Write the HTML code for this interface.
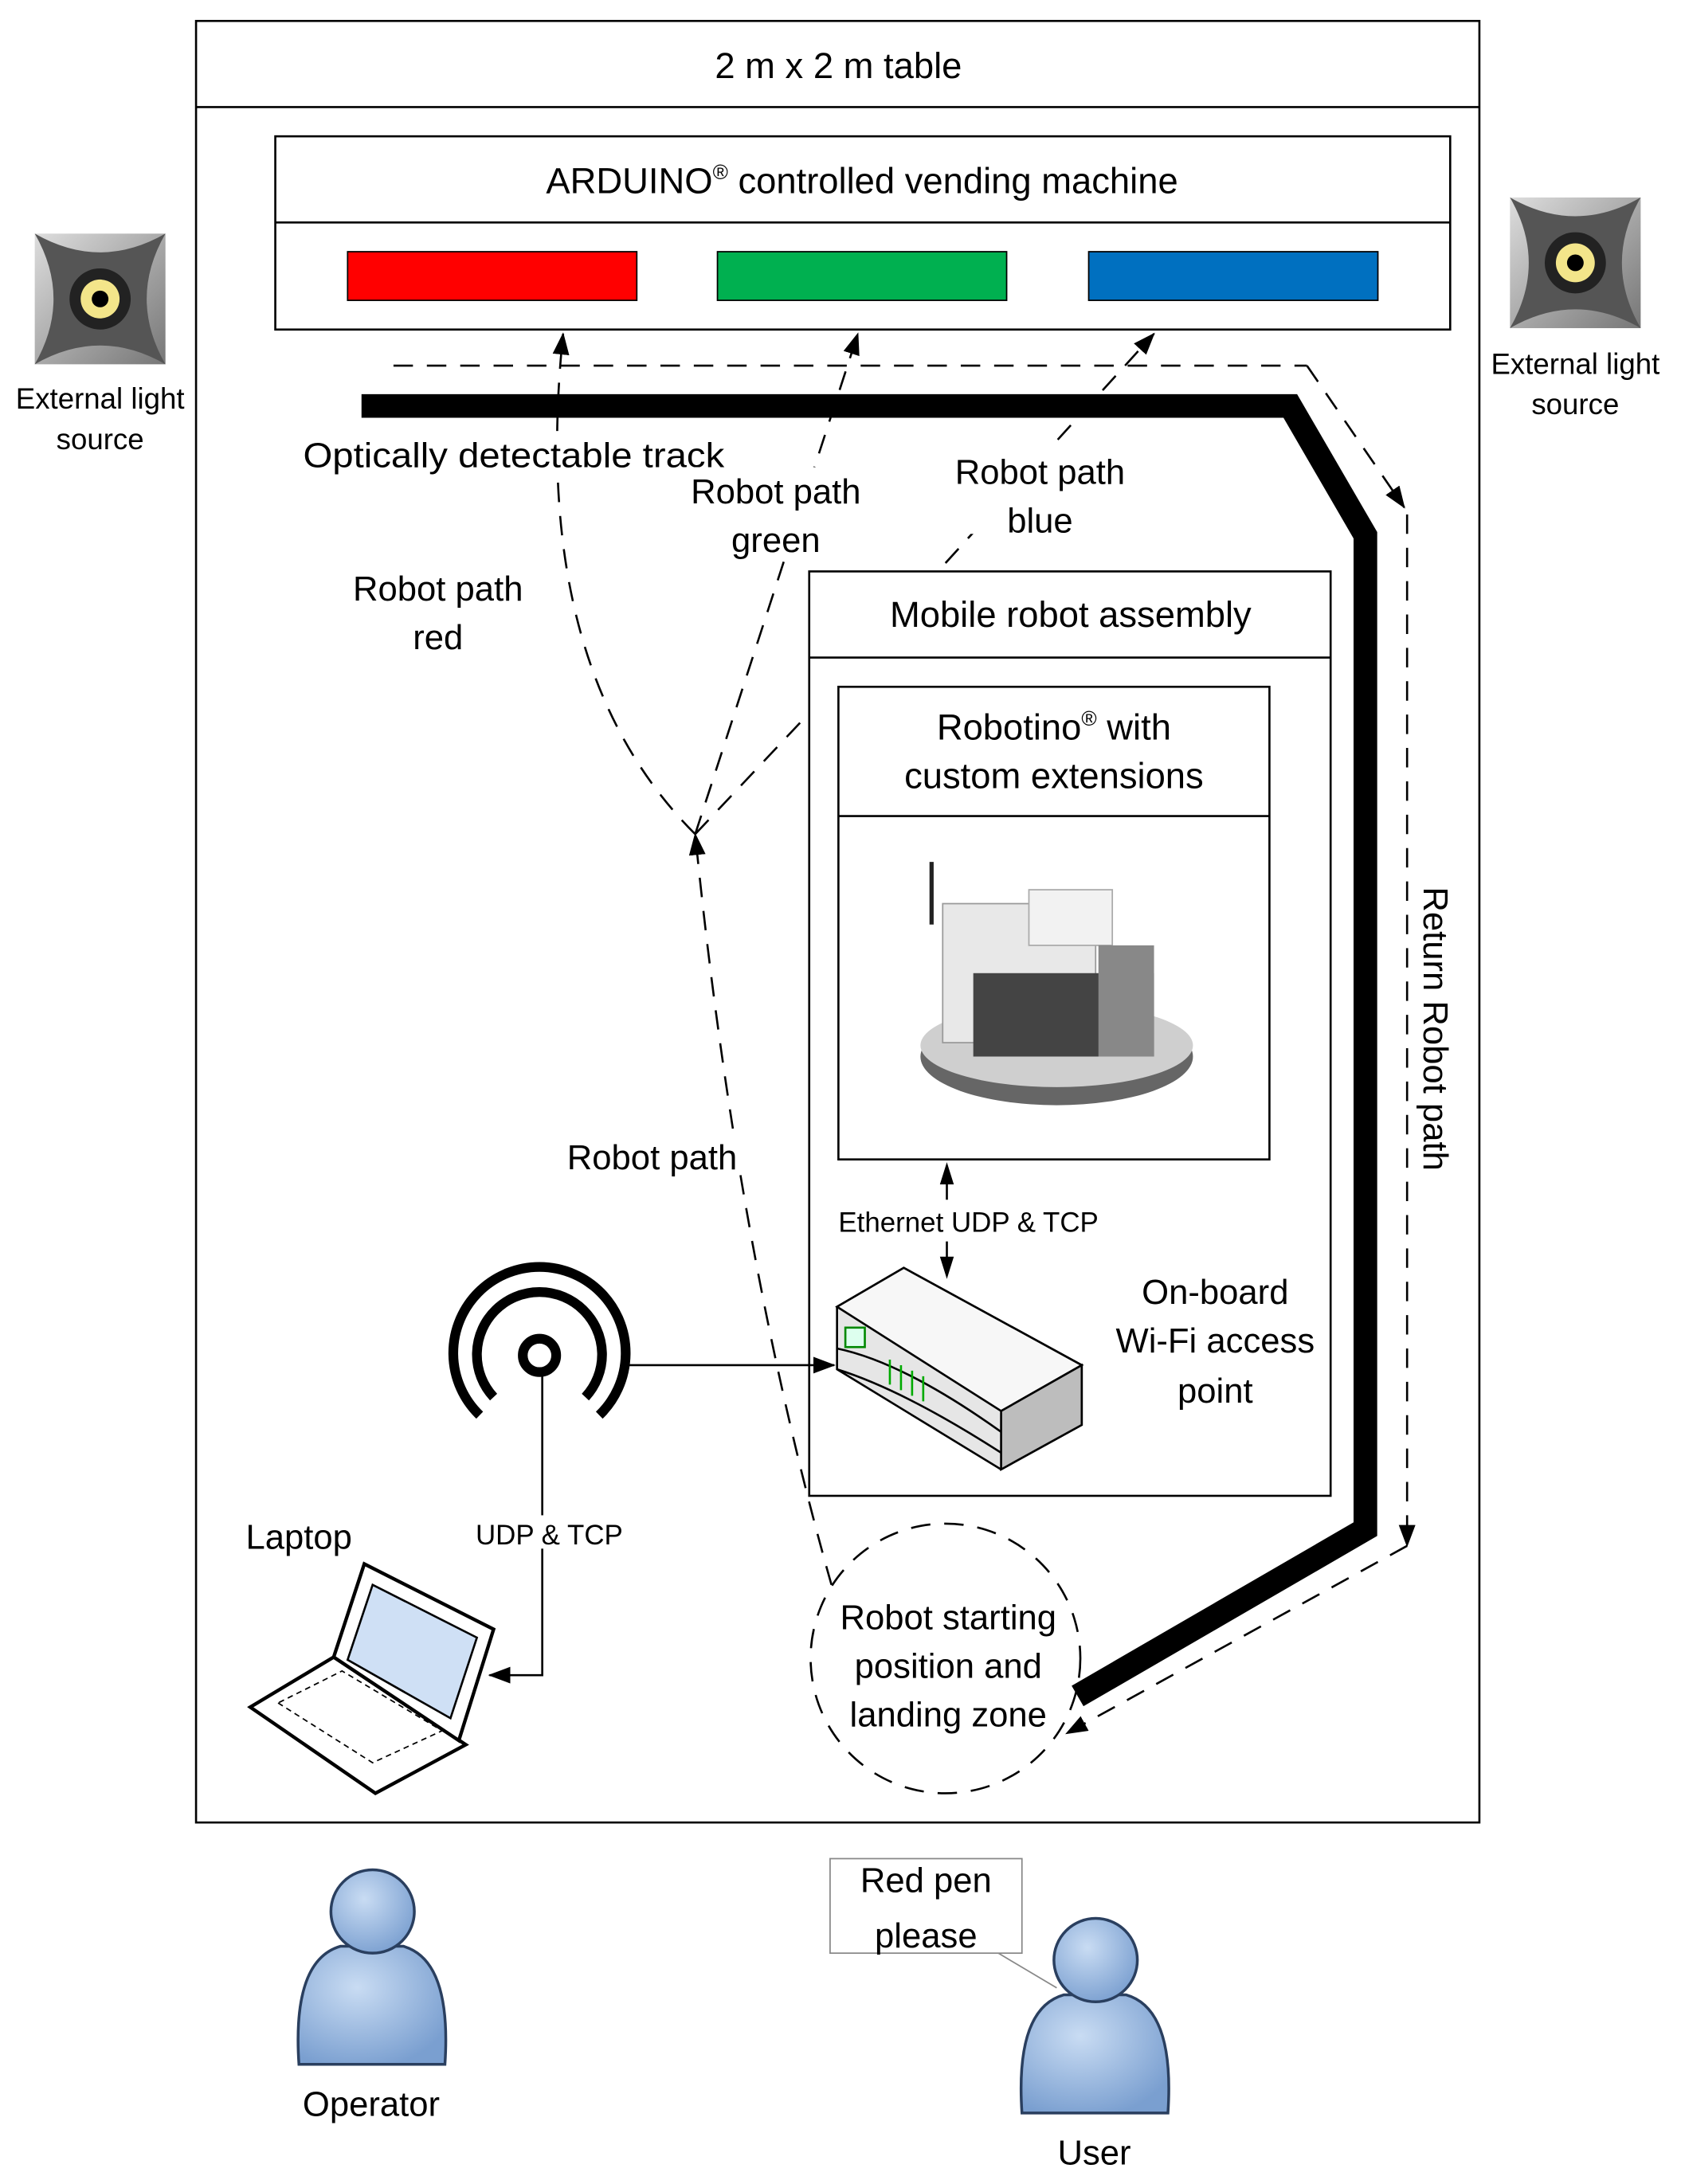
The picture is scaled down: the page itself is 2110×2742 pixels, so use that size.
<!DOCTYPE html>
<html><head><meta charset="utf-8"><style>
html,body{margin:0;padding:0;background:#fff}
svg{display:block}
text{font-family:"Liberation Sans","DejaVu Sans",sans-serif;fill:#000}
</style></head><body>
<svg width="2110" height="2742" viewBox="0 0 1209 1571" xmlns="http://www.w3.org/2000/svg">
<defs>
<marker id="as" markerWidth="16" markerHeight="12" refX="15" refY="6" orient="auto" markerUnits="userSpaceOnUse"><path d="M0,0 L16,6 L0,12 z" fill="#000"/></marker>
<radialGradient id="pg" cx="40%" cy="35%" r="70%"><stop offset="0" stop-color="#c9dcf3"/><stop offset="1" stop-color="#7a9fd0"/></radialGradient>
<linearGradient id="ls" x1="0" y1="0" x2="1" y2="1"><stop offset="0" stop-color="#ddd"/><stop offset="1" stop-color="#777"/></linearGradient>
</defs>
<g fill="none" stroke="#000" stroke-width="1.5">
<rect x="141" y="15" width="923" height="1296"/><line x1="141" y1="77" x2="1064" y2="77"/>
<rect x="198" y="98" width="845" height="139"/><line x1="198" y1="160" x2="1043" y2="160"/>
<rect x="582" y="411" width="375" height="665"/><line x1="582" y1="473" x2="957" y2="473"/>
<rect x="603" y="494" width="310" height="340"/><line x1="603" y1="587" x2="913" y2="587"/>
</g>
<rect x="250" y="181" width="208" height="35" fill="#ff0000" stroke="#000"/>
<rect x="516" y="181" width="208" height="35" fill="#00b050" stroke="#000"/>
<rect x="783" y="181" width="208" height="35" fill="#0070c0" stroke="#000"/>
<text x="603" y="56" font-size="26" text-anchor="middle">2 m x 2 m table</text>
<text x="620" y="139" font-size="26" text-anchor="middle">ARDUINO<tspan font-size="15" dy="-10">®</tspan><tspan dy="10"> controlled vending machine</tspan></text>
<text x="770" y="451" font-size="26" text-anchor="middle">Mobile robot assembly</text>
<text x="758" y="532" font-size="26" text-anchor="middle">Robotino<tspan font-size="15" dy="-10">®</tspan><tspan dy="10"> with</tspan></text>
<text x="758" y="567" font-size="26" text-anchor="middle">custom extensions</text>
<g transform="translate(72,215)">
<rect x="-47" y="-47" width="94" height="94" fill="url(#ls)"/>
<path d="M-47,-47 Q0,-20 47,-47 Q20,0 47,47 Q0,20 -47,47 Q-20,0 -47,-47z" fill="#555"/>
<circle r="22" fill="#222"/><circle r="14" fill="#f3e58a"/><circle r="6" fill="#000"/>
</g>
<g transform="translate(1133,189)">
<rect x="-47" y="-47" width="94" height="94" fill="url(#ls)"/>
<path d="M-47,-47 Q0,-20 47,-47 Q20,0 47,47 Q0,20 -47,47 Q-20,0 -47,-47z" fill="#555"/>
<circle r="22" fill="#222"/><circle r="14" fill="#f3e58a"/><circle r="6" fill="#000"/>
</g>
<g font-size="21" text-anchor="middle">
<text x="72" y="294">External light</text><text x="72" y="323">source</text>
<text x="1133" y="269">External light</text><text x="1133" y="298">source</text>
</g>
<polyline points="260,292 928,292 982,385 982,1100 775,1220" fill="none" stroke="#000" stroke-width="17"/>
<g fill="none" stroke="#000" stroke-width="1.5" stroke-dasharray="14,10">
<polyline points="283,263 940,263"/>
<line x1="940" y1="263" x2="1010" y2="365" marker-end="url(#as)"/>
<line x1="1012" y1="370" x2="1012" y2="1112" marker-end="url(#as)"/>
<line x1="1012" y1="1112" x2="767" y2="1247" marker-end="url(#as)"/>
<path d="M500,600 Q380,480 405,240" marker-end="url(#as)"/>
<line x1="500" y1="600" x2="617" y2="240" marker-end="url(#as)"/>
<line x1="500" y1="600" x2="580" y2="515"/>
<line x1="680" y1="405" x2="830" y2="240" marker-end="url(#as)"/>
<path d="M598,1140 Q530,900 500,600" marker-end="url(#as)"/>
<circle cx="680" cy="1193" r="97"/>
</g>
<rect x="215" y="310" width="308" height="28" fill="#fff"/>
<text x="218" y="336" font-size="25" textLength="303" lengthAdjust="spacingAndGlyphs">Optically detectable track</text>
<rect x="490" y="336" width="136" height="62" fill="#fff"/>
<rect x="678" y="322" width="140" height="62" fill="#fff"/>
<rect x="245" y="406" width="140" height="62" fill="#fff"/>
<rect x="400" y="815" width="140" height="30" fill="#fff"/>
<g font-size="25" text-anchor="middle">
<text x="558" y="362">Robot path</text><text x="558" y="397">green</text>
<text x="748" y="348">Robot path</text><text x="748" y="383">blue</text>
<text x="315" y="432">Robot path</text><text x="315" y="467">red</text>
<text x="469" y="841">Robot path</text>
<text x="874" y="938">On-board</text><text x="874" y="973">Wi-Fi access</text><text x="874" y="1009">point</text>
<text x="682" y="1172">Robot starting</text><text x="682" y="1207">position and</text><text x="682" y="1242">landing zone</text>
<text x="215" y="1114">Laptop</text>
<text x="267" y="1522">Operator</text>
<text x="787" y="1557">User</text>
</g>
<text transform="translate(1024,740) rotate(90)" font-size="25" text-anchor="middle">Return Robot path</text>
<g>
<ellipse cx="760" cy="760" rx="98" ry="35" fill="#666"/>
<ellipse cx="760" cy="752" rx="98" ry="30" fill="#cfcfcf"/>
<rect x="678" y="650" width="110" height="100" fill="#e8e8e8" stroke="#999"/>
<rect x="740" y="640" width="60" height="40" fill="#f2f2f2" stroke="#aaa"/>
<rect x="700" y="700" width="130" height="60" fill="#444"/>
<rect x="790" y="680" width="40" height="80" fill="#888"/>
<line x1="670" y1="620" x2="670" y2="665" stroke="#222" stroke-width="3"/>
</g>
<line x1="681" y1="850" x2="681" y2="863" stroke="#000" stroke-width="1.5"/>
<line x1="681" y1="893" x2="681" y2="906" stroke="#000" stroke-width="1.5"/>
<path d="M681,836 L676,852 L686,852z M681,920 L676,904 L686,904z" fill="#000"/>
<text x="603" y="886" font-size="20">Ethernet UDP &amp; TCP</text>
<g stroke="#000" stroke-width="1.5">
<path d="M602,940 L650,912 L778,982 L778,1025 L720,1057 L602,985z" fill="#e6e6e6"/>
<path d="M602,940 L650,912 L778,982 L720,1015z" fill="#f7f7f7"/>
<path d="M720,1015 L778,982 L778,1025 L720,1057z" fill="#bdbdbd"/>
<path d="M602,970 Q650,980 720,1030 M602,985 Q650,1000 720,1045" fill="none"/>
<rect x="608" y="955" width="14" height="14" fill="#dfe" stroke="#080"/>
<path d="M640,978 v18 M648,982 v18 M656,986 v18 M664,990 v18" stroke="#0a0"/>
</g>
<g fill="none" stroke="#000">
<circle cx="388" cy="975" r="12" stroke-width="7"/>
<path d="M355,1005 A45,45 0 1 1 421,1005" stroke-width="7"/>
<path d="M345,1018 A62,62 0 1 1 431,1018" stroke-width="7"/>
</g>
<line x1="450" y1="982" x2="600" y2="982" stroke="#000" stroke-width="1.5" marker-end="url(#as)"/>
<polyline points="390,985 390,1205 352,1205" fill="none" stroke="#000" stroke-width="1.5" marker-end="url(#as)"/>
<rect x="340" y="1090" width="110" height="24" fill="#fff"/>
<text x="395" y="1111" font-size="20" text-anchor="middle">UDP &amp; TCP</text>
<g stroke="#000" stroke-width="2.5">
<path d="M180,1228 L270,1290 L335,1255 L240,1192z" fill="#fff"/>
<path d="M240,1192 L262,1125 L355,1172 L330,1252z" fill="#fff"/>
<path d="M250,1194 L268,1140 L343,1178 L324,1236z" fill="#cfe0f5" stroke-width="1.5"/>
<path d="M200,1225 L268,1268 L318,1245 L246,1202z" fill="none" stroke-width="1" stroke-dasharray="4,3"/>
</g>
<g stroke="#2a3f5f" stroke-width="2" fill="url(#pg)">
<path d="M215,1485 Q210,1410 245,1400 L290,1400 Q325,1410 320,1485z"/>
<circle cx="268" cy="1375" r="30"/>
<path d="M735,1520 Q730,1445 765,1435 L810,1435 Q845,1445 840,1520z"/>
<circle cx="788" cy="1410" r="30"/>
</g>
<line x1="718" y1="1405" x2="760" y2="1430" stroke="#888"/>
<rect x="597" y="1337" width="138" height="68" fill="#fff" stroke="#888"/>
<text x="666" y="1361" font-size="25" text-anchor="middle">Red pen</text>
<text x="666" y="1401" font-size="25" text-anchor="middle">please</text>
</svg>
</body></html>
